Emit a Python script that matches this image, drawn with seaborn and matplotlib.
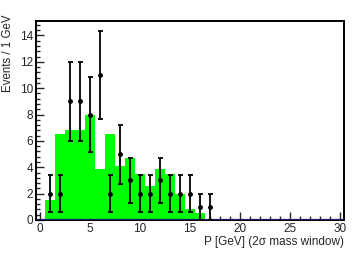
import numpy as np
import pandas as pd
import matplotlib
matplotlib.use("Agg")
import matplotlib.pyplot as plt
import seaborn as sns
from matplotlib.ticker import MultipleLocator

# simulated signal shape (green histogram), 1 GeV bins centred on integers
mc_centers = [1, 2, 3, 4, 5, 6, 7, 8, 9, 10, 11, 12, 13, 14, 15, 16]
mc_heights = [1.5, 6.5, 6.8, 6.8, 8.0, 3.9, 6.5, 4.1, 4.7, 3.5, 2.6, 3.85, 3.5, 2.0, 0.85, 0.5]

# observed events
data_x = [1, 2, 3, 4, 5, 6, 7, 8, 9, 10, 11, 12, 13, 14, 15, 16, 17]
data_n = [2, 2, 9, 9, 8, 11, 2, 5, 3, 2, 2, 3, 2, 2, 2, 1, 1]

sns.set_style("ticks")
plt.rcParams['font.family'] = ['Liberation Sans', 'DejaVu Sans']

fig = plt.figure(figsize=(3.57, 2.58), dpi=100)
ax = fig.add_axes([0.1008, 0.1473, 0.8628, 0.7713])

mc_df = pd.DataFrame({"p": mc_centers, "w": mc_heights})
sns.histplot(data=mc_df, x="p", weights="w", binwidth=1.0, binrange=(0.5, 16.5),
             element="bars", fill=True, color="#00ff00", alpha=1, linewidth=0, ax=ax)

ax.axhline(0, color="#1a1a6e", lw=1.6, zorder=3)

err = np.sqrt(np.array(data_n, dtype=float))
ax.errorbar(data_x, data_n, yerr=err, fmt="o", color="black", ms=2.5,
            elinewidth=1.3, capsize=1.8, capthick=1.3, zorder=4)

ax.set_xlim(-0.4, 30.4)
ax.set_ylim(0, 15.1)
ax.xaxis.set_major_locator(MultipleLocator(5))
ax.xaxis.set_minor_locator(MultipleLocator(1))
ax.yaxis.set_major_locator(MultipleLocator(2))
ax.yaxis.set_minor_locator(MultipleLocator(0.4))
ax.tick_params(which="both", direction="in", top=False, right=False, labelsize=8.5, width=1.0)
ax.tick_params(which="major", length=6, pad=2)
ax.tick_params(which="minor", length=3)
for s in ax.spines.values():
    s.set_visible(True)
    s.set_linewidth(1.4)
    s.set_color("black")

ax.set_xlabel("P [GeV] (2σ mass window)", fontsize=8.5, loc="right", labelpad=1)
ax.set_ylabel("")
fig.text(8.5 / 357, 1 - 15 / 258, "Events / 1 GeV", fontsize=8.3, rotation=90,
         ha="center", va="top")

fig.savefig("out.png", dpi=100)
